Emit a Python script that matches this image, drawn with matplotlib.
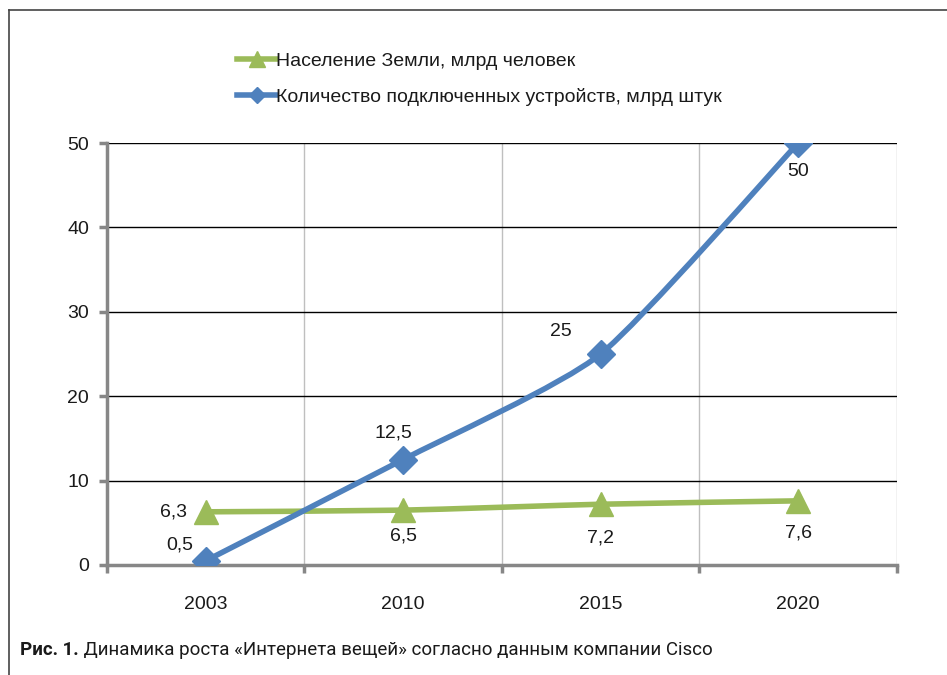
import numpy as np
import matplotlib.pyplot as plt
from matplotlib.path import Path
from matplotlib.patches import PathPatch
from matplotlib.lines import Line2D

# Data
years = ['2003', '2010', '2015', '2020']
population = [6.3, 6.5, 7.2, 7.6]
devices = [0.5, 12.5, 25, 50]
pop_labels = ['6,3', '6,5', '7,2', '7,6']
dev_labels = ['0,5', '12,5', '25', '50']

green = '#9BBB59'
blue = '#4F81BD'
txt = '#1a1a1a'

plt.rcParams['font.family'] = ['Liberation Sans', 'DejaVu Sans']


def smooth_path(x, y, k=10):
    # smoothed line like Excel: cubic Bezier segments through the points
    pts = np.column_stack([x, y]).astype(float)
    n = len(pts)
    verts = [pts[0]]
    codes = [Path.MOVETO]
    for i in range(n - 1):
        p0 = pts[max(i - 1, 0)]
        p1 = pts[i]
        p2 = pts[i + 1]
        p3 = pts[min(i + 2, n - 1)]
        c1 = p1 + (p2 - p0) / k
        c2 = p2 - (p3 - p1) / k
        verts += [c1, c2, p2]
        codes += [Path.CURVE4] * 3
    return Path(verts, codes)


fig = plt.figure(figsize=(9.47, 6.75), dpi=100)
ax = fig.add_axes([0.113, 0.163, 0.834, 0.625])

x = np.arange(len(years))

ax.add_patch(PathPatch(smooth_path(x, population), fill=False, ec=green, lw=4, zorder=3,
                       capstyle='round', joinstyle='round'))
ax.add_patch(PathPatch(smooth_path(x, devices), fill=False, ec=blue, lw=4, zorder=4,
                       capstyle='round', joinstyle='round'))
ax.plot(x, population, ls='none', marker='^', ms=17, color=green, zorder=5)
ax.plot(x, devices, ls='none', marker='D', ms=14, color=blue, zorder=6)

# data labels
pop_off = [(-19, 0), (0, -26), (0, -34), (0, -32)]
dev_off = [(-12, 16), (-10, 27), (-40, 23), (0, -28)]
for i in range(len(years)):
    dx, dy = pop_off[i]
    ax.annotate(pop_labels[i], (x[i], population[i]), xytext=(dx, dy), textcoords='offset pixels',
                ha='right' if dx < 0 else 'center', va='center', fontsize=14, color=txt, zorder=7)
    dx, dy = dev_off[i]
    ax.annotate(dev_labels[i], (x[i], devices[i]), xytext=(dx, dy), textcoords='offset pixels',
                ha='right' if i == 0 else 'center', va='center', fontsize=14, color=txt, zorder=7)

ax.set_xlim(-0.5, 3.5)
ax.set_ylim(0, 50)
ax.set_yticks(range(0, 51, 10))
ax.set_xticks(np.arange(-0.5, 3.6, 1))
ax.set_xticklabels([])
ax.set_xticks(x, minor=True)
ax.set_xticklabels(years, minor=True)

for s in ['top', 'right']:
    ax.spines[s].set_visible(False)
for s in ['left', 'bottom']:
    ax.spines[s].set_color('#878787')
    ax.spines[s].set_linewidth(2.5)

ax.tick_params(axis='both', which='major', direction='out', length=6, width=2.5, color='#878787',
               labelsize=14, labelcolor=txt)
ax.tick_params(axis='y', pad=7)
ax.tick_params(axis='x', which='minor', length=0, pad=22, labelsize=14, labelcolor=txt)

ax.grid(axis='y', color='black', lw=1)
ax.grid(axis='x', which='major', color='#BFBFBF', lw=1)
ax.set_axisbelow(True)

handles = [Line2D([], [], color=green, lw=4, marker='^', ms=11),
           Line2D([], [], color=blue, lw=4, marker='D', ms=8)]
fig.legend(handles, ['Население Земли, млрд человек', 'Количество подключенных устройств, млрд штук'],
           loc='upper left', bbox_to_anchor=(0.232, 0.948), frameon=False, fontsize=14,
           handlelength=2.0, handletextpad=0.0, labelspacing=0.9, labelcolor=txt)

# outer frame (top and left)
fig.add_artist(Line2D([0.009, 1.0], [0.985, 0.985], color='#444444', lw=1.2))
fig.add_artist(Line2D([0.009, 0.009], [0.0, 0.985], color='#444444', lw=1.2))

cap1 = fig.text(0.021, 0.030, 'Рис. 1.', fontsize=13.5, fontweight='bold', family='Roboto', color=txt)
plt.annotate(' Динамика роста «Интернета вещей» согласно данным компании Cisco',
             xy=(1, 0), xycoords=cap1, va='bottom', ha='left',
             fontsize=13.5, family='Roboto', color=txt, annotation_clip=False)

fig.savefig('out.png', dpi=100)
